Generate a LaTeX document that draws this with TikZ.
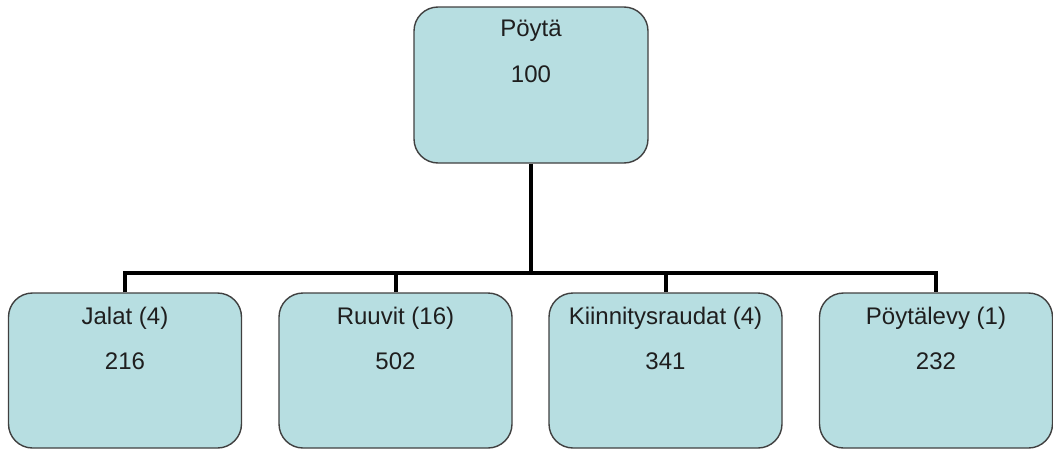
\documentclass[tikz,border=0pt]{standalone}
\usepackage{fontspec}
\setmainfont{Liberation Sans}
\definecolor{boxfill}{RGB}{183,222,225}
\definecolor{boxline}{RGB}{64,64,64}
\definecolor{txt}{RGB}{30,30,30}
\begin{document}
\begin{tikzpicture}[x=1pt,y=-1pt,
  part/.style={draw=boxline,line width=1.4pt,fill=boxfill,rounded corners=24pt,
    minimum width=233pt,minimum height=155pt,inner sep=0pt},
  lbl/.style={anchor=base,text=txt,inner sep=0pt,font=\fontsize{24}{28}\selectfont},
  conn/.style={line width=4pt,black,line join=miter}]
\useasboundingbox (0,0) rectangle (1053,450);
% parts
\node[part,minimum width=234pt,minimum height=156pt] (top) at (531,85) {};
\node[part] (b1) at (125,370.5) {};
\node[part] (b2) at (395.5,370.5) {};
\node[part] (b3) at (665.5,370.5) {};
\node[part] (b4) at (936,370.5) {};
% texts
\node[lbl] (t1) at ([yshift=-30pt]top.north) {Pöytä};
\node[lbl] (t2) at ([yshift=-76pt]top.north) {100};
\node[lbl] (l1) at ([yshift=-32pt]b1.north) {Jalat (4)};
\node[lbl] (n1) at ([yshift=-77pt]b1.north) {216};
\node[lbl] (l2) at ([yshift=-32pt]b2.north) {Ruuvit (16)};
\node[lbl] (n2) at ([yshift=-77pt]b2.north) {502};
\node[lbl] (l3) at ([yshift=-32pt]b3.north) {Kiinnitysraudat (4)};
\node[lbl] (n3) at ([yshift=-77pt]b3.north) {341};
\node[lbl] (l4) at ([yshift=-32pt]b4.north) {Pöytälevy (1)};
\node[lbl] (n4) at ([yshift=-77pt]b4.north) {232};
% connectors
\coordinate (bus) at (0,273);
\draw[conn] (top.south) -- (top.south |- bus);
\draw[conn] (b1.north) -- (b1.north |- bus) -- (b4.north |- bus) -- (b4.north);
\draw[conn] (b2.north) -- (b2.north |- bus);
\draw[conn] (b3.north) -- (b3.north |- bus);
\end{tikzpicture}
\end{document}
